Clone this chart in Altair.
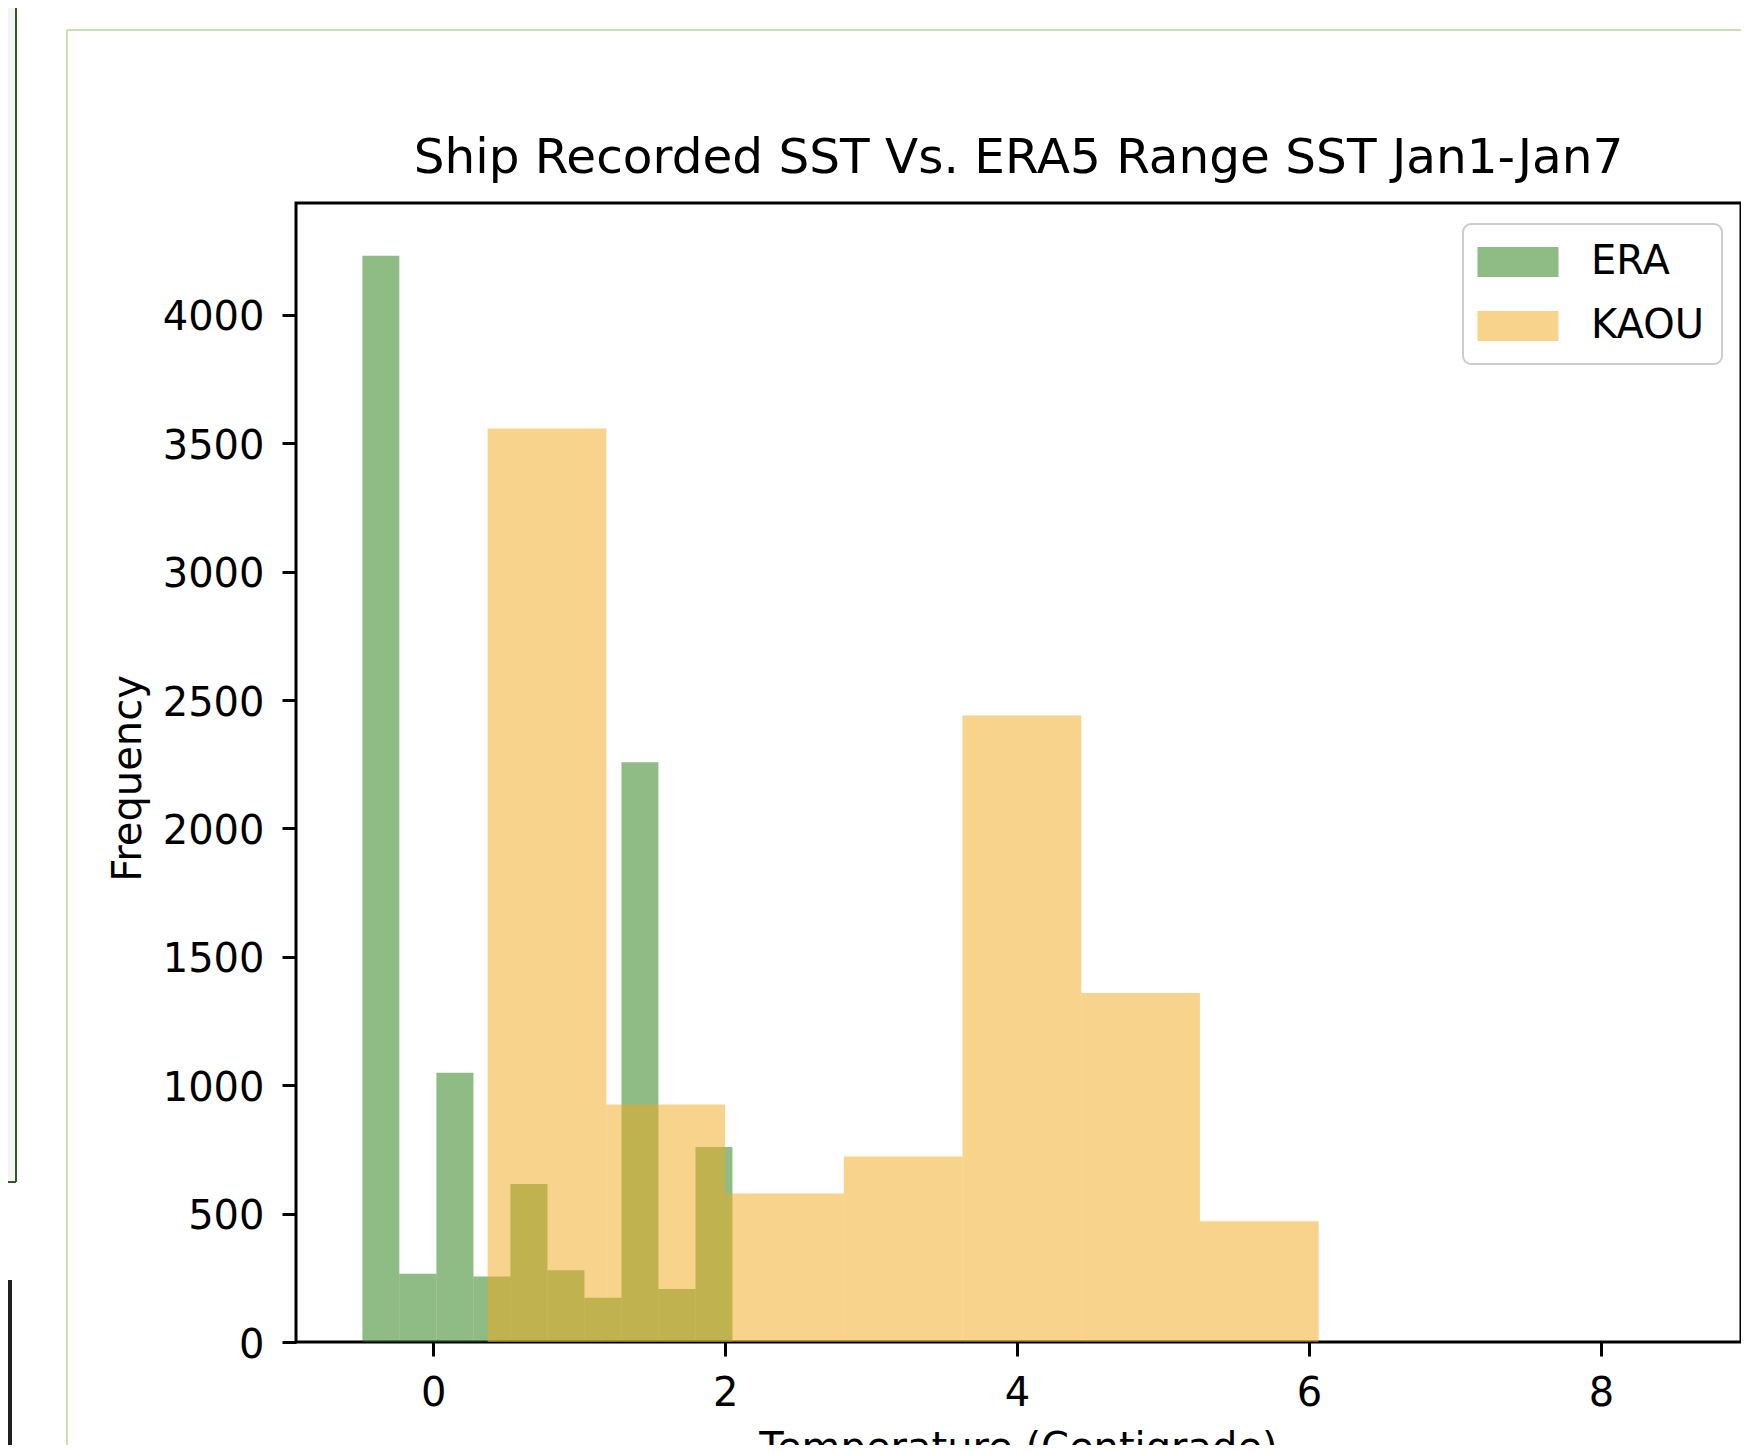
import altair as alt
import pandas as pd

# ---- data ----
series_names = ["ERA", "KAOU"]
series_colors = ["#1f790b", "#efa719"]   # drawn at opacity 0.5

era_edges = [-0.485, -0.232, 0.022, 0.276, 0.529, 0.783, 1.036, 1.290, 1.543, 1.797, 2.050]
era_counts = [4231, 266, 1049, 255, 615, 279, 172, 2258, 206, 759]

kaou_edges = [0.373, 1.186, 2.000, 2.813, 3.626, 4.440, 5.253, 6.066, 6.879, 7.693, 8.506]
kaou_counts = [3558, 925, 578, 722, 2440, 1359, 470, 0, 0, 0]

x_ticks = [0, 2, 4, 6, 8]
y_ticks = [0, 500, 1000, 1500, 2000, 2500, 3000, 3500, 4000]
x_domain = [-0.94, 8.96]
y_domain = [0, 4436]

title_text = "Ship Recorded SST Vs. ERA5 Range SST Jan1-Jan7"
x_title = "Temperature (Centigrade)"
y_title = "Frequency"


def hist_frame(name, edges, counts):
    return pd.DataFrame({
        "series": name,
        "start": edges[:-1],
        "end": edges[1:],
        "count": counts,
        "base": [0] * len(counts),
    })


df_era = hist_frame(series_names[0], era_edges, era_counts)
df_kaou = hist_frame(series_names[1], kaou_edges, kaou_counts)

FONT = "DejaVu Sans"
W, H = 1445, 1139

x_enc = alt.X(
    "start:Q",
    scale=alt.Scale(domain=x_domain, nice=False, zero=False),
    axis=alt.Axis(values=x_ticks, format="d", labelPadding=17, title=x_title,
                  titleX=722, titleY=118, titleBaseline="alphabetic", titleAlign="center"),
)
y_enc = alt.Y(
    "count:Q",
    scale=alt.Scale(domain=y_domain, nice=False),
    axis=alt.Axis(values=y_ticks, format="d", labelPadding=18, labelOffset=3, title=y_title,
                  titleAngle=270, titleX=-156, titleY=575, titleBaseline="alphabetic",
                  titleAlign="center"),
)
color_enc = alt.Color(
    "series:N",
    scale=alt.Scale(domain=series_names, range=series_colors),
    legend=alt.Legend(
        orient="none", legendX=1167, legendY=21, title=None,
        symbolType="M-2.025,-0.75H2.025V0.75H-2.025Z", symbolSize=1600,
        symbolOffset=17, symbolStrokeWidth=0, symbolOpacity=0.5,
        labelFont=FONT, labelFontSize=40, labelColor="black", labelOffset=53,
        padding=18, rowPadding=24,
        strokeColor="#cccccc", fillColor="rgba(255,255,255,0.8)", cornerRadius=8,
    ),
)


def bars(df):
    return alt.Chart(df).mark_rect(opacity=0.5).encode(
        x=x_enc, x2="end:Q", y=y_enc, y2="base:Q", color=color_enc
    )


one = alt.Data(values=[{"k": 1}])
# screenshot surroundings (frame lines of the captured window)
deco = [
    alt.Chart(one).mark_rect(color="#f4f4f4").encode(
        x=alt.value(-288), x2=alt.value(-281), y=alt.value(-195), y2=alt.value(979)),
    alt.Chart(one).mark_rule(color="#375623", strokeWidth=2).encode(
        x=alt.value(-280), y=alt.value(-195), y2=alt.value(979)),
    alt.Chart(one).mark_rule(color="#375623", strokeWidth=2).encode(
        x=alt.value(-288), x2=alt.value(-280), y=alt.value(979)),
    alt.Chart(one).mark_rect(color="#1e1e1e").encode(
        x=alt.value(-288), x2=alt.value(-284), y=alt.value(1077), y2=alt.value(1260)),
    alt.Chart(one).mark_rule(color="#c6e2b5", strokeWidth=2).encode(
        x=alt.value(-229), y=alt.value(-173), y2=alt.value(1260)),
    alt.Chart(one).mark_rule(color="#c6e2b5", strokeWidth=2).encode(
        x=alt.value(-229), x2=alt.value(1460), y=alt.value(-173)),
]

chart = alt.layer(*deco, bars(df_era), bars(df_kaou)).properties(
    width=W,
    height=H,
    padding={"left": 288, "top": 195, "right": 0, "bottom": 103},
    autosize=alt.AutoSizeParams(type="none"),
    title=alt.TitleParams(
        text=title_text, font=FONT, fontSize=48.5, fontWeight="normal", color="black",
        anchor="middle", frame="group", baseline="alphabetic", offset=0, dy=214,
    ),
).configure_view(
    stroke="black", strokeWidth=3
).configure_axis(
    grid=False, domain=False, tickColor="black", tickWidth=3, tickSize=14,
    labelFont=FONT, labelFontSize=40, labelColor="black",
    titleFont=FONT, titleFontSize=40, titleFontWeight="normal", titleColor="black",
).configure_legend(
    strokeWidth=2
)

chart.save("out.html", embed_options={"renderer": "svg", "actions": False})
